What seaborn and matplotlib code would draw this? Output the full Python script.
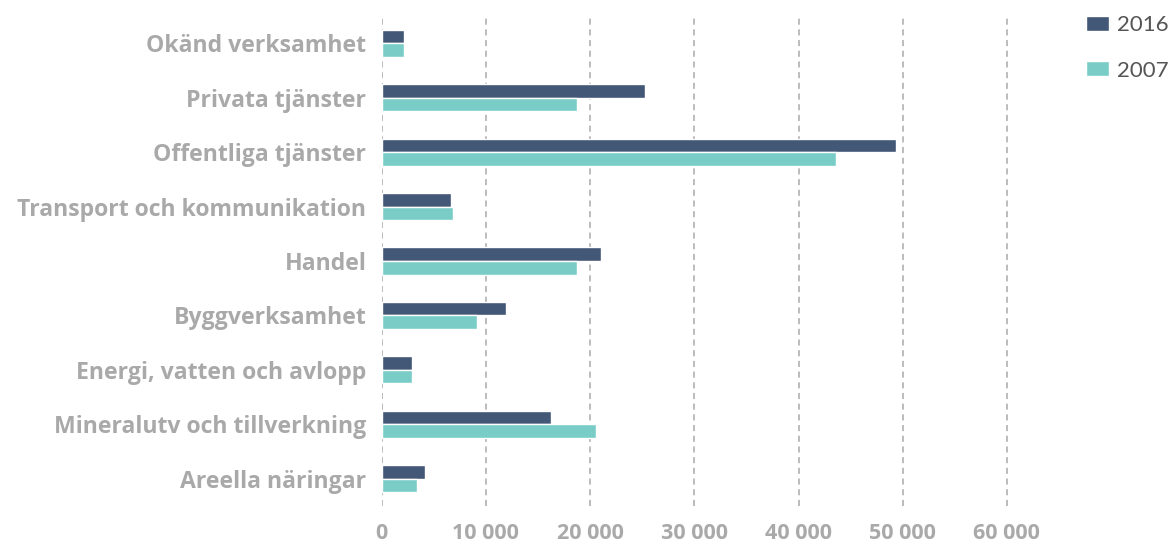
import pandas as pd
import matplotlib
matplotlib.use('Agg')
import matplotlib.pyplot as plt
import seaborn as sns

sns.set_style('white')
plt.rcParams['font.family'] = ['Open Sans', 'DejaVu Sans']

# Chart data
categories = ['Okänd verksamhet', 'Privata tjänster', 'Offentliga tjänster',
              'Transport och kommunikation', 'Handel', 'Byggverksamhet',
              'Energi, vatten och avlopp', 'Mineralutv och tillverkning',
              'Areella näringar']
values_2016 = [2150, 25250, 49400, 6650, 21050, 11950, 2900, 16250, 4150]
values_2007 = [2150, 18700, 43600, 6850, 18700, 9150, 2900, 20550, 3400]
years = ['2016', '2007']
x_ticks = [0, 10000, 20000, 30000, 40000, 50000, 60000]
x_tick_labels = ['0', '10 000', '20 000', '30 000', '40 000', '50 000', '60 000']

df = pd.DataFrame({
    'Kategori': categories * 2,
    'Antal': values_2016 + values_2007,
    'År': [years[0]] * len(categories) + [years[1]] * len(categories),
})

fig = plt.figure(figsize=(11.7, 5.46), dpi=100)
ax = fig.add_axes([381.7 / 1170, 1 - 506 / 546, 630 / 1170, 490 / 546])

sns.barplot(data=df, y='Kategori', x='Antal', hue='År', orient='h',
            palette=['#435777', '#7acdc7'], width=0.5, ax=ax,
            saturation=1, legend=True)

ax.set_xlim(0, 60460)
ax.set_ylim(8.5, -0.5)
ax.set_xticks(x_ticks)
ax.set_xticklabels(x_tick_labels)
ax.set_xlabel('')
ax.set_ylabel('')
ax.grid(axis='x', color='#aaaaaa', linestyle=(0, (4, 3)), linewidth=1.1)
ax.set_axisbelow(True)
for s in ax.spines.values():
    s.set_visible(False)
ax.tick_params(axis='both', length=0, colors='#a9a9a9')
ax.tick_params(axis='x', pad=12, labelsize=15.5)
ax.tick_params(axis='y', pad=11, labelsize=16.6)
for lbl in ax.get_xticklabels() + ax.get_yticklabels():
    lbl.set_fontweight('bold')

handles, labels = ax.get_legend_handles_labels()
ax.legend(handles, labels, loc='upper left', bbox_to_anchor=(1075 / 1170, 1 - 4 / 546),
          bbox_transform=fig.transFigure, frameon=False,
          prop={'family': 'Lato', 'size': 16},
          handlelength=1.05, handleheight=0.65, handletextpad=0.35, labelspacing=1.15,
          labelcolor='#555555', borderaxespad=0.2, borderpad=0.3)

fig.savefig('out.png', dpi=100)
